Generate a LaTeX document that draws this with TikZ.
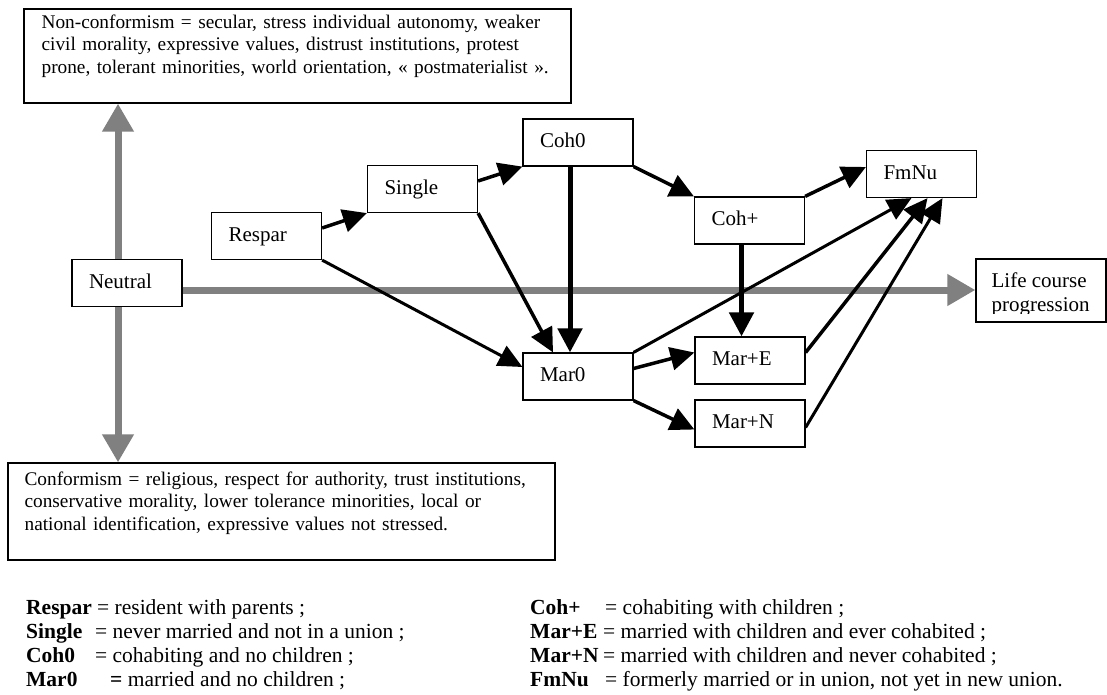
\documentclass[tikz,border=0pt]{standalone}
\usepackage{fontspec}
\setmainfont{Liberation Serif}
\usetikzlibrary{arrows.meta,calc}
\definecolor{arrowgray}{RGB}{128,128,128}
\newcommand\nodefont{\fontsize{21}{24}\selectfont}
\newcommand\boxfont{\fontsize{19.3}{22.6}\selectfont}
\newcommand\legfont{\fontsize{21.5}{24}\selectfont}
\begin{document}
\begin{tikzpicture}[x=1pt,y=-1pt,
  nodebox/.style={draw, fill=white, line width=1.2pt, minimum height=47pt,
    text width=76pt, inner xsep=17pt, inner ysep=0pt, align=left,
    text height=14.5pt, text depth=4.5pt, font=\nodefont},
  bigbox/.style={draw, fill=white, line width=1.2pt, inner sep=0pt},
  boxtext/.style={anchor=north west, inner sep=0pt, align=left, text width=530pt, font=\boxfont},
  grayarrow/.style={draw=arrowgray, line width=7pt, line cap=butt, -{Triangle[length=28pt,width=30pt]}},
  blk/.style={line width=3.5pt, -{Triangle[length=24pt,width=23pt]}},
  blkv/.style={line width=5pt, -{Triangle[length=24pt,width=24pt]}},
  blkthin/.style={line width=3pt, -{Triangle[length=24pt,width=22pt]}},
  leglabel/.style={anchor=base west, inner sep=0pt, font=\legfont\bfseries},
  legtext/.style={anchor=base west, inner sep=0pt, font=\legfont}]
\fill[white] (0,0) rectangle (1107,695);
\useasboundingbox (0,0) rectangle (1107,695);

% big text boxes
\node[bigbox, minimum width=547pt, minimum height=94pt] (nonconf) at (297.5,56) {};
\node[boxtext] (nonconftext) at ([xshift=18pt,yshift=-6pt]nonconf.north west)
  {Non-conformism = secular, stress individual autonomy, weaker\\
   civil morality, expressive values, distrust institutions, protest\\
   prone, tolerant minorities, world orientation, « postmaterialist ».};
\node[bigbox, minimum width=547pt, minimum height=97pt] (conf) at (281.5,511.5) {};
\node[boxtext] (conftext) at ([xshift=17pt,yshift=-9pt]conf.north west)
  {Conformism = religious, respect for authority, trust institutions,\\
   conservative morality, lower tolerance minorities, local or\\
   national identification, expressive values not stressed.};

% life course box
\node[bigbox, minimum width=130pt, minimum height=63pt] (life) at (1041,290.5) {};
\begin{scope}
  \clip (life.north west) rectangle ([yshift=9pt]life.south east);
  \node[anchor=north west, inner sep=0pt, align=left, font=\nodefont] (lifetext)
    at ([xshift=16pt,yshift=-14pt]life.north west) {Life course\\progression};
\end{scope}

% state nodes
\node[nodebox] (neutral) at (127,283) {Neutral};
\node[nodebox] (respar) at (266.5,236) {Respar};
\node[nodebox] (single) at (422.5,189) {Single};
\node[nodebox] (coh0) at (578,142.5) {Coh0};
\node[nodebox] (cohp) at (749.5,220.5) {Coh+};
\node[nodebox] (fmnu) at (921.5,174) {FmNu};
\node[nodebox] (mar0) at (578,376.5) {Mar0};
\node[nodebox] (mare) at (750,360.5) {Mar+E};
\node[nodebox] (marn) at (750,423.5) {Mar+N};

% gray axes
\coordinate (gup) at ([xshift=-9pt]neutral.north);
\coordinate (gdown) at ([xshift=-9pt]neutral.south);
\coordinate (gright) at ([yshift=-7pt]neutral.east);
\draw[grayarrow] (gup) -- (gup |- nonconf.south);
\draw[grayarrow] (gdown) -- (gdown |- conf.north);
\draw[grayarrow] (gright) -- (gright -| life.west);

% transitions
\draw[blk] ([yshift=8pt]respar.east) -- (single.south west);
\draw[blk] ([yshift=8pt]single.east) -- (coh0.south west);
\draw[blk] (coh0.south east) -- (cohp.north west);
\draw[blk] (cohp.north east) -- ([yshift=7pt]fmnu.west);
\draw[blkv] ([xshift=-8pt]coh0.south) -- ([xshift=-8pt]mar0.north);
\draw[blk] (single.south east) -- ([xshift=-25pt]mar0.north);
\draw[blkthin] (respar.south east) -- ([yshift=9.5pt]mar0.west);
\draw[blkv] ([xshift=-8pt]cohp.south) -- ([xshift=-8.5pt]mare.north);
\draw[blk] ([yshift=8pt]mar0.east) -- ([yshift=8pt]mare.west);
\draw[blk] (mar0.south east) -- ([yshift=-6pt]marn.west);
\draw[blkthin] (mar0.north east) -- ([xshift=-10pt]fmnu.south);
\draw[blk] ([yshift=8pt]mare.east) -- ([xshift=6pt]fmnu.south);
\draw[blkthin] ([yshift=-4pt]marn.east) -- ([xshift=21pt]fmnu.south);

% legend
\node[leglabel] (lrespar) at (26,614) {Respar};
\node[legtext] (drespar) at (97,614) {= resident with parents ;};
\node[leglabel] (lsingle) at (26,638) {Single};
\node[legtext] (dsingle) at (95,638) {= never married and not in a union ;};
\node[leglabel] (lcoh0) at (26,662) {Coh0};
\node[legtext] (dcoh0) at (95,662) {= cohabiting and no children ;};
\node[leglabel] (lmar0) at (26,686) {Mar0};
\node[legtext] (dmar0) at (110,686) {\textbf{=} married and no children ;};
\node[leglabel] (lcohp) at (530,614) {Coh+};
\node[legtext] (dcohp) at (605,614) {= cohabiting with children ;};
\node[leglabel] (lmare) at (530,638) {Mar+E};
\node[legtext] (dmare) at (603,638) {= married with children and ever cohabited ;};
\node[leglabel] (lmarn) at (530,662) {Mar+N};
\node[legtext] (dmarn) at (603,662) {= married with children and never cohabited ;};
\node[leglabel] (lfmnu) at (530,686) {FmNu};
\node[legtext] (dfmnu) at (605,686) {= formerly married or in union, not yet in new union.};
\end{tikzpicture}
\end{document}
